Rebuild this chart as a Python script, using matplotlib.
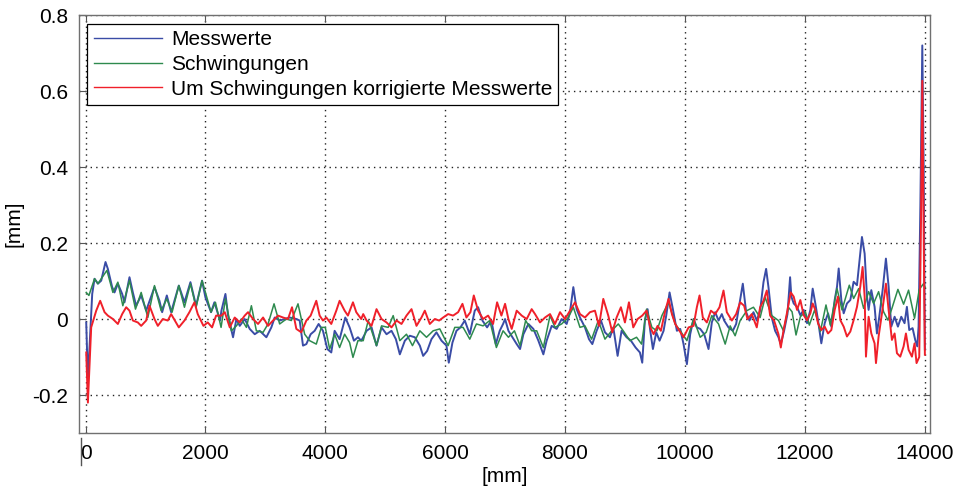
import matplotlib as mpl
mpl.use('Agg')
import matplotlib.pyplot as plt
from matplotlib import rcParams

rcParams['font.family'] = ['Liberation Sans', 'DejaVu Sans']
rcParams['axes.unicode_minus'] = False

# Messwerte (blue)
blue_x = [11, 39, 111, 150, 206, 261, 333, 372, 444, 483, 539, 611, 650, 733, 789, 844, 928, 1011,
          1150, 1233, 1278, 1356, 1428, 1556, 1650, 1750, 1844, 1944, 2000, 2094, 2150, 2244, 2267,
          2334, 2378, 2461, 2517, 2573, 2656, 2739, 2823, 2906, 3017, 3100, 3156, 3239, 3323, 3406,
          3517, 3573, 3628, 3684, 3756, 3823, 3889, 3961, 4034, 4100, 4156, 4239, 4334, 4406, 4478,
          4545, 4600, 4633, 4689, 4772, 4855, 4939, 5022, 5105, 5178, 5244, 5328, 5411, 5494, 5578,
          5633, 5700, 5772, 5855, 5939, 6022, 6061, 6122, 6189, 6255, 6328, 6411, 6494, 6550, 6622,
          6700, 6772, 6845, 6911, 6967, 7000, 7056, 7122, 7194, 7250, 7306, 7389, 7472, 7556, 7639,
          7694, 7778, 7861, 7944, 8028, 8083, 8139, 8194, 8250, 8333, 8400, 8456, 8528, 8600, 8667,
          8750, 8806, 8878, 8944, 9028, 9100, 9178, 9250, 9289, 9333, 9378, 9423, 9467, 9523, 9578,
          9645, 9689, 9745, 9800, 9867, 9923, 9978, 10034, 10089, 10145, 10200, 10256, 10323, 10395,
          10450, 10506, 10562, 10617, 10656, 10728, 10800, 10856, 10912, 10967, 11023, 11078, 11145,
          11200, 11256, 11312, 11356, 11395, 11450, 11506, 11562, 11601, 11656, 11712, 11756, 11777,
          11816, 11872, 11927, 11983, 12039, 12094, 12133, 12177, 12222, 12277, 12333, 12389, 12444,
          12500, 12539, 12567, 12611, 12650, 12705, 12761, 12816, 12872, 12911, 12955, 13000, 13039,
          13066, 13111, 13166, 13205, 13244, 13300, 13355, 13400, 13444, 13500, 13555, 13611, 13666,
          13705, 13744, 13800, 13844, 13878, 13900, 13930, 13962, 13985, 14005]
blue_y = [-0.009, -0.159, 0.066, 0.106, 0.093, 0.101, 0.150, 0.132, 0.084, 0.070, 0.093, 0.066, 0.044,
          0.110, 0.070, 0.035, 0.062, 0.022, 0.084, 0.048, 0.018, 0.062, 0.018, 0.088, 0.044, 0.097,
          0.035, 0.101, 0.057, 0.018, 0.044, -0.004, 0.022, 0.066, 0.009, -0.048, 0.000, -0.018, 0.000,
          -0.026, -0.040, -0.031, -0.048, -0.022, 0.004, -0.004, 0.000, 0.004, 0.000, -0.004, -0.070,
          -0.066, -0.040, -0.031, -0.013, -0.031, -0.079, -0.088, -0.031, -0.053, 0.004, -0.022, -0.057,
          -0.048, -0.057, -0.048, -0.031, -0.022, -0.070, -0.022, -0.040, -0.031, -0.053, -0.093, -0.057,
          -0.044, -0.048, -0.070, -0.097, -0.084, -0.053, -0.035, -0.057, -0.070, -0.115, -0.062, -0.031,
          -0.022, -0.004, -0.040, 0.022, 0.031, -0.004, -0.022, -0.004, -0.066, -0.031, -0.013, 0.000,
          -0.031, -0.048, -0.066, -0.079, -0.040, -0.013, -0.026, -0.057, -0.093, -0.057, -0.018, -0.026,
          0.000, -0.013, 0.018, 0.084, 0.026, 0.004, -0.022, -0.053, -0.066, -0.031, -0.004, -0.035,
          -0.048, -0.022, -0.097, -0.031, -0.048, -0.057, -0.075, -0.088, -0.115, -0.004, 0.026, -0.031,
          -0.079, -0.035, -0.057, -0.031, 0.009, 0.070, 0.026, -0.031, -0.026, -0.066, -0.119, -0.040,
          0.000, -0.022, -0.026, -0.040, -0.079, -0.009, 0.018, -0.004, 0.013, -0.004, -0.022, -0.031,
          -0.013, 0.040, 0.093, 0.018, -0.004, 0.018, -0.004, 0.022, 0.097, 0.132, 0.084, 0.004, -0.031,
          -0.048, -0.066, -0.031, 0.013, 0.110, 0.059, 0.041, 0.032, 0.010, 0.024, -0.011, 0.024, 0.080,
          0.041, -0.003, -0.064, -0.011, 0.015, -0.020, 0.050, 0.085, 0.133, 0.050, 0.015, 0.041, 0.050,
          0.098, 0.089, 0.150, 0.216, 0.172, 0.059, 0.024, 0.076, 0.032, -0.038, 0.006, 0.076, 0.159,
          0.085, -0.020, 0.006, -0.020, 0.006, -0.011, 0.032, -0.029, -0.024, -0.055, -0.072, -0.020,
          0.300, 0.720, 0.400, -0.080]

# Schwingungen (green)
green_x = [11, 56, 150, 206, 356, 456, 539, 622, 733, 833, 928, 1039, 1150, 1261, 1356, 1444, 1556,
           1650, 1750, 1844, 1944, 2094, 2167, 2261, 2334, 2434, 2517, 2600, 2684, 2767, 2850, 2962,
           3045, 3145, 3239, 3350, 3434, 3545, 3656, 3739, 3850, 3934, 4000, 4073, 4156, 4239, 4323,
           4406, 4462, 4545, 4633, 4717, 4855, 4939, 5050, 5133, 5244, 5355, 5455, 5578, 5689, 5800,
           5911, 6050, 6161, 6300, 6411, 6522, 6633, 6744, 6855, 6967, 7056, 7156, 7250, 7344, 7444,
           7528, 7639, 7750, 7833, 7944, 8056, 8139, 8250, 8333, 8444, 8556, 8667, 8778, 8889, 8972,
           9083, 9194, 9278, 9361, 9450, 9534, 9617, 9728, 9839, 9923, 10034, 10145, 10256, 10356,
           10450, 10562, 10673, 10756, 10839, 10923, 11034, 11145, 11256, 11339, 11450, 11562, 11645,
           11728, 11789, 11855, 11927, 12011, 12077, 12166, 12261, 12355, 12427, 12539, 12622, 12744,
           12816, 12900, 12983, 13066, 13150, 13233, 13316, 13389, 13455, 13555, 13650, 13733, 13833,
           13911, 13983, 14010]
green_y = [0.070, 0.062, 0.106, 0.093, 0.128, 0.070, 0.097, 0.035, 0.101, 0.026, 0.070, 0.004, 0.088,
           0.022, 0.053, 0.018, 0.088, 0.031, 0.093, 0.031, 0.101, 0.018, 0.044, -0.022, 0.053, -0.031,
           -0.018, 0.000, -0.022, 0.035, -0.031, -0.035, -0.013, 0.040, -0.013, 0.000, -0.004, 0.040,
           -0.040, -0.057, -0.066, -0.022, -0.022, -0.079, -0.040, -0.075, -0.040, -0.062, -0.101, -0.057,
           -0.057, -0.004, -0.070, -0.018, -0.022, 0.009, -0.057, -0.040, -0.070, -0.031, -0.048, -0.031,
           -0.026, -0.070, -0.022, -0.022, -0.053, -0.013, -0.018, -0.004, -0.075, -0.031, -0.048, -0.031,
           -0.070, -0.004, -0.031, -0.031, -0.075, 0.009, -0.022, -0.013, 0.004, 0.031, -0.022, -0.018,
           -0.053, -0.004, -0.053, -0.031, -0.013, -0.031, -0.057, -0.048, -0.066, 0.026, -0.022, -0.031,
           0.009, 0.044, -0.013, -0.031, -0.057, 0.000, -0.048, -0.035, 0.009, -0.013, -0.066, -0.018,
           -0.044, -0.004, 0.022, 0.031, 0.004, 0.057, 0.009, -0.004, -0.031, 0.031, 0.019, -0.042, 0.006,
           0.019, -0.016, 0.024, -0.033, 0.037, -0.016, 0.080, 0.024, 0.089, 0.054, 0.080, 0.028, 0.072,
           0.041, 0.072, 0.019, -0.003, 0.028, 0.078, 0.039, 0.076, 0.002, 0.078, 0.093, 0.083]

# Um Schwingungen korrigierte Messwerte (red)
red_x = [11, 39, 94, 178, 244, 317, 372, 456, 539, 611, 678, 733, 789, 872, 928, 1011, 1067, 1150,
         1206, 1289, 1372, 1428, 1556, 1650, 1733, 1817, 1872, 1967, 2039, 2111, 2178, 2267, 2323,
         2406, 2489, 2573, 2656, 2711, 2795, 2878, 2962, 3045, 3128, 3211, 3295, 3378, 3445, 3517,
         3600, 3684, 3756, 3850, 3906, 3961, 4017, 4100, 4184, 4239, 4323, 4378, 4462, 4517, 4600,
         4633, 4689, 4772, 4855, 4939, 5022, 5105, 5189, 5272, 5355, 5439, 5522, 5605, 5661, 5744,
         5828, 5900, 5967, 6050, 6133, 6217, 6289, 6355, 6422, 6478, 6550, 6633, 6717, 6800, 6867,
         6939, 7000, 7056, 7111, 7194, 7278, 7361, 7444, 7500, 7583, 7667, 7750, 7833, 7917, 8000,
         8083, 8167, 8250, 8333, 8417, 8500, 8567, 8639, 8722, 8789, 8861, 8933, 9000, 9067, 9139,
         9211, 9289, 9361, 9423, 9478, 9545, 9600, 9673, 9728, 9784, 9839, 9911, 9978, 10062, 10145,
         10200, 10245, 10300, 10367, 10434, 10506, 10578, 10645, 10700, 10784, 10856, 10923, 10989,
         11045, 11117, 11200, 11256, 11312, 11367, 11423, 11489, 11562, 11601, 11645, 11700, 11767,
         11816, 11872, 11927, 11983, 12039, 12094, 12133, 12177, 12222, 12277, 12333, 12389, 12444,
         12500, 12555, 12594, 12650, 12705, 12761, 12816, 12872, 12927, 12966, 13000, 13022, 13066,
         13111, 13166, 13189, 13233, 13289, 13355, 13400, 13455, 13500, 13539, 13594, 13650, 13689,
         13733, 13789, 13833, 13866, 13911, 13940, 13962, 13980, 14005]
red_y = [-0.088, -0.220, -0.022, 0.022, 0.048, 0.018, 0.009, 0.000, -0.013, 0.013, 0.031, 0.022, -0.004,
         -0.009, -0.018, -0.004, 0.035, 0.000, -0.018, 0.000, -0.004, 0.013, -0.022, -0.004, 0.018, 0.044,
         0.013, -0.018, -0.009, -0.022, 0.009, 0.009, 0.018, -0.022, 0.004, -0.009, 0.009, 0.018, 0.000,
         -0.013, 0.004, -0.018, -0.004, 0.009, 0.004, 0.000, 0.031, -0.026, -0.035, -0.004, 0.009, 0.048,
         0.009, -0.004, 0.004, -0.013, 0.022, 0.048, 0.022, 0.009, 0.044, 0.018, 0.000, 0.013, -0.004,
         -0.018, 0.026, 0.000, -0.009, -0.022, -0.004, -0.013, 0.009, 0.026, -0.018, 0.004, 0.022, -0.013,
         0.000, -0.004, 0.004, 0.013, 0.009, 0.018, 0.040, 0.004, 0.018, 0.062, 0.022, 0.000, 0.009,
         -0.013, 0.044, 0.009, 0.040, 0.000, -0.026, 0.022, 0.009, 0.000, 0.026, 0.013, -0.009, 0.004,
         0.013, -0.013, 0.018, 0.000, 0.022, 0.044, 0.013, 0.004, 0.018, 0.022, -0.018, 0.053, 0.009,
         -0.035, 0.004, 0.031, -0.009, 0.044, -0.022, 0.000, 0.009, 0.022, -0.022, -0.040, -0.018, -0.031,
         0.022, 0.053, 0.013, -0.013, -0.031, -0.048, -0.022, -0.018, 0.031, 0.062, 0.004, -0.009, 0.022,
         0.013, 0.031, 0.075, 0.018, -0.004, 0.013, 0.044, 0.035, 0.000, 0.013, -0.022, 0.031, 0.048,
         0.075, 0.009, -0.004, -0.040, -0.075, -0.031, 0.013, 0.070, 0.059, 0.024, 0.050, 0.010, -0.003,
         0.015, 0.041, 0.024, -0.011, -0.029, -0.020, -0.038, -0.029, 0.024, 0.059, -0.003, -0.020,
         -0.046, -0.033, -0.003, 0.032, 0.085, 0.137, 0.059, -0.099, 0.006, -0.038, -0.064, -0.116,
         -0.046, 0.015, 0.093, 0.024, -0.055, -0.038, -0.090, -0.099, -0.072, -0.038, -0.081, -0.099,
         -0.064, -0.116, -0.100, 0.250, 0.627, 0.300, -0.094]

series_labels = ['Messwerte', 'Schwingungen', 'Um Schwingungen korrigierte Messwerte']
x_ticks = [0, 2000, 4000, 6000, 8000, 10000, 12000, 14000]
y_ticks = [-0.2, 0, 0.2, 0.4, 0.6, 0.8]
y_ticklabels = ['-0.2', '0', '0.2', '0.4', '0.6', '0.8']

fig = plt.figure(figsize=(9.63, 4.9), dpi=100)
ax = fig.add_axes([0.082, 0.1163, 0.8837, 0.853])

ax.plot(blue_x, blue_y, color='#3a4ca6', lw=1.4, label=series_labels[0])
ax.plot(green_x, green_y, color='#2e8a4e', lw=1.1, label=series_labels[1])
ax.plot(red_x, red_y, color='#f0202a', lw=1.4, label=series_labels[2])

ax.set_xlim(-110, 14090)
ax.set_ylim(-0.3, 0.8)
ax.set_xticks(x_ticks)
ax.set_xticklabels([str(t) for t in x_ticks])
ax.set_yticks(y_ticks)
ax.set_yticklabels(y_ticklabels)
ax.set_axisbelow(True)
ax.grid(True, linestyle=(0, (1, 3)), color='#222222', lw=1.0)
ax.tick_params(direction='in', top=True, right=True, length=5, width=0.8,
               labelsize=15, pad=8, color='#555555')
for s in ax.spines.values():
    s.set_color('#707070')
    s.set_linewidth(1.0)

ax.set_xlabel('[mm]', fontsize=15, labelpad=3)
ax.set_ylabel('[mm]', fontsize=15, labelpad=6)

# small stray axis stub seen under the origin
ax.plot([0.002, 0.002], [-0.012, -0.076], transform=ax.transAxes, clip_on=False,
        color='#555555', lw=1.0)

leg = ax.legend(loc='upper left', bbox_to_anchor=(0.01, 0.978), fontsize=15, handlelength=3.3,
                handletextpad=0.4, labelspacing=0.27, borderaxespad=0, borderpad=0.3,
                fancybox=False, framealpha=1)
leg.get_frame().set_edgecolor('black')
leg.get_frame().set_linewidth(0.9)
for line in leg.get_lines():
    line.set_linewidth(1.0)

plt.savefig('out.png', dpi=100)
